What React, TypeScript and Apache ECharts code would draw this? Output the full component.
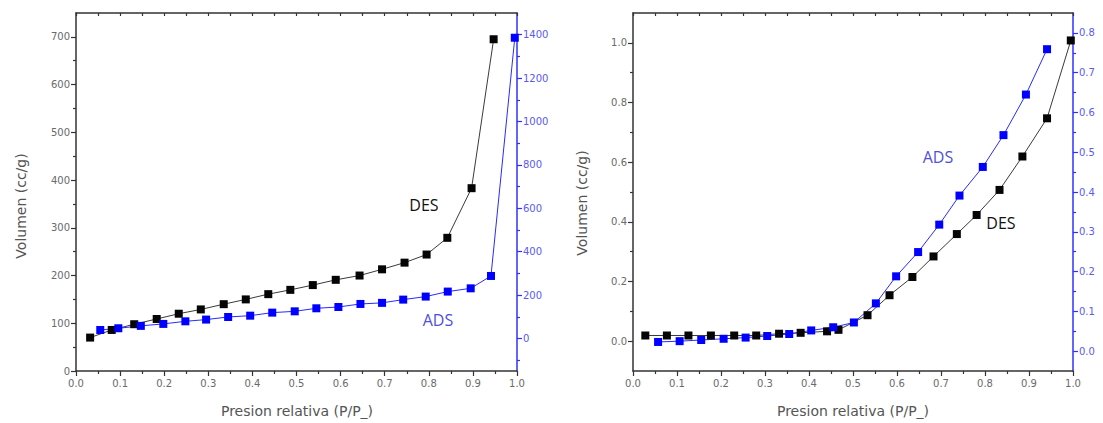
import React, { useEffect, useRef } from "react";
import * as echarts from "echarts";

// ---------- Data ----------
// Left panel: DES (black, left axis), ADS (blue, right axis)
const leftDesX = [0.032, 0.081, 0.132, 0.183, 0.233, 0.283, 0.335, 0.385, 0.436, 0.486, 0.537, 0.589, 0.643, 0.694, 0.745, 0.795, 0.842, 0.897, 0.947];
const leftDesY = [70, 86, 98, 109, 120, 129, 140, 150, 161, 170, 180, 191, 200, 213, 227, 244, 279, 383, 695];
const leftAdsX = [0.055, 0.096, 0.147, 0.198, 0.248, 0.295, 0.345, 0.395, 0.445, 0.496, 0.545, 0.595, 0.645, 0.694, 0.742, 0.793, 0.843, 0.895, 0.941, 0.995];
const leftAdsY = [39, 47, 58, 67, 79, 87, 99, 105, 119, 125, 139, 145, 159, 164, 179, 193, 216, 231, 288, 1386];

// Right panel: DES (black, left axis), ADS (blue, right axis)
const rightDesX = [0.028, 0.077, 0.126, 0.177, 0.23, 0.28, 0.332, 0.381, 0.441, 0.467, 0.533, 0.583, 0.635, 0.683, 0.736, 0.781, 0.833, 0.885, 0.941, 0.995];
const rightDesY = [0.019, 0.019, 0.019, 0.019, 0.019, 0.019, 0.025, 0.028, 0.033, 0.038, 0.087, 0.154, 0.215, 0.284, 0.359, 0.423, 0.507, 0.619, 0.747, 1.008];
const rightAdsX = [0.057, 0.106, 0.155, 0.206, 0.256, 0.305, 0.355, 0.405, 0.455, 0.502, 0.552, 0.598, 0.648, 0.696, 0.742, 0.795, 0.842, 0.893, 0.941];
const rightAdsY = [0.023, 0.025, 0.028, 0.031, 0.034, 0.038, 0.043, 0.052, 0.06, 0.072, 0.12, 0.188, 0.249, 0.318, 0.391, 0.463, 0.543, 0.645, 0.759];

// Tick values
const xTicks = [0, 0.1, 0.2, 0.3, 0.4, 0.5, 0.6, 0.7, 0.8, 0.9, 1.0];
const xMinorTicks = [0.05, 0.15, 0.25, 0.35, 0.45, 0.55, 0.65, 0.75, 0.85, 0.95];
const leftYTicks = [0, 100, 200, 300, 400, 500, 600, 700];
const leftYMinor = [50, 150, 250, 350, 450, 550, 650];
const leftY2Ticks = [0, 200, 400, 600, 800, 1000, 1200, 1400];
const leftY2Minor = [-100, 100, 300, 500, 700, 900, 1100, 1300];
const rightYTicks = [0, 0.2, 0.4, 0.6, 0.8, 1.0];
const rightYMinor = [0.1, 0.3, 0.5, 0.7, 0.9];
const rightY2Ticks = [0, 0.1, 0.2, 0.3, 0.4, 0.5, 0.6, 0.7, 0.8];
const rightY2Minor = [0.05, 0.15, 0.25, 0.35, 0.45, 0.55, 0.65, 0.75];

const AXIS_DARK = "#333333";
const AXIS_BLUE = "#3030ff";
const LABEL_GRAY = "#6a6a6a";
const LABEL_BLUE = "#5a5aee";
const TICK_FONT = "DejaVu Sans";

const zip = (xs: number[], ys: number[]) => xs.map((x, i) => [x, ys[i]]);

function xAxes(grid: number) {
  return [
    {
      type: "value",
      gridIndex: grid,
      position: "bottom",
      min: 0,
      max: 1,
      interval: 0.1,
      axisLine: { onZero: false, lineStyle: { color: AXIS_DARK, width: 1.5 } },
      axisTick: { show: true, length: 5, customValues: xTicks, lineStyle: { color: AXIS_DARK, width: 1.2 } },
      minorTick: { show: true, splitNumber: 2, length: 3, lineStyle: { color: AXIS_DARK, width: 1.2 } },
      splitLine: { show: false },
      axisLabel: {
        customValues: xTicks,
        formatter: (v: number) => v.toFixed(1),
        color: LABEL_GRAY,
        fontFamily: TICK_FONT,
        fontSize: 10,
        margin: 7,
      },
    },
    {
      type: "value",
      gridIndex: grid,
      position: "top",
      min: 0,
      max: 1,
      interval: 0.1,
      axisLine: { onZero: false, lineStyle: { color: AXIS_DARK, width: 1.5 } },
      axisTick: { show: true, inside: true, length: 3, customValues: [...xTicks, ...xMinorTicks], lineStyle: { color: AXIS_DARK, width: 1.2 } },
      splitLine: { show: false },
      axisLabel: { show: false },
    },
  ];
}

function yAxisPair(
  grid: number,
  position: "left" | "right",
  min: number,
  max: number,
  ticks: number[],
  minor: number[],
  decimals: number,
  lineColor: string,
  labelColor: string
) {
  return [
    {
      type: "value",
      gridIndex: grid,
      position,
      min,
      max,
      axisLine: { show: true, onZero: false, lineStyle: { color: lineColor, width: 1.5 } },
      axisTick: { show: true, length: 5, customValues: ticks, lineStyle: { color: lineColor, width: 1.2 } },
      splitLine: { show: false },
      axisLabel: {
        customValues: ticks,
        formatter: (v: number) => v.toFixed(decimals),
        color: labelColor,
        fontFamily: TICK_FONT,
        fontSize: 10,
        margin: 6,
      },
    },
    {
      type: "value",
      gridIndex: grid,
      position,
      min,
      max,
      axisLine: { show: false, onZero: false },
      axisTick: { show: true, length: 3, customValues: minor, lineStyle: { color: lineColor, width: 1.2 } },
      splitLine: { show: false },
      axisLabel: { show: false },
    },
  ];
}

function lineSeries(data: number[][], xi: number, yi: number, color: string, lineColor: string) {
  return {
    type: "line",
    xAxisIndex: xi,
    yAxisIndex: yi,
    data,
    symbol: "rect",
    symbolSize: 8,
    showAllSymbol: true,
    itemStyle: { color },
    lineStyle: { color: lineColor, width: 1 },
  };
}

function textEl(text: string, x: number, y: number, color: string, font: string, size: number, rotation = 0) {
  return {
    type: "text",
    x,
    y,
    rotation,
    style: {
      text,
      fill: color,
      fontFamily: font,
      fontSize: size,
      textAlign: "center",
      textVerticalAlign: "middle",
    },
  };
}

export default function App() {
  const ref = useRef<HTMLDivElement>(null);
  useEffect(() => {
    if (!ref.current) return;
    const chart = echarts.init(ref.current, null, { renderer: "svg" });
    const option: any = {
      animation: false,
      backgroundColor: "#ffffff",
      grid: [
        { left: 76, right: 586, top: 13, bottom: 52, containLabel: false, outerBoundsMode: "none" },
        { left: 633, right: 30, top: 13, bottom: 52, containLabel: false, outerBoundsMode: "none" },
      ],
      xAxis: [...xAxes(0), ...xAxes(1)],
      yAxis: [
        ...yAxisPair(0, "left", 0, 750, leftYTicks, leftYMinor, 0, AXIS_DARK, LABEL_GRAY),
        ...yAxisPair(0, "right", -150, 1500, leftY2Ticks, leftY2Minor, 0, AXIS_BLUE, LABEL_BLUE),
        ...yAxisPair(1, "left", -0.1, 1.1, rightYTicks, rightYMinor, 1, AXIS_DARK, LABEL_GRAY),
        ...yAxisPair(1, "right", -0.05, 0.85, rightY2Ticks, rightY2Minor, 1, AXIS_BLUE, LABEL_BLUE),
      ],
      series: [
        lineSeries(zip(leftDesX, leftDesY), 0, 0, "#050505", "#3a3a3a"),
        lineSeries(zip(leftAdsX, leftAdsY), 0, 2, "#0000ff", "#2a2aff"),
        lineSeries(zip(rightDesX, rightDesY), 2, 4, "#050505", "#3a3a3a"),
        lineSeries(zip(rightAdsX, rightAdsY), 2, 6, "#0000ff", "#2a2aff"),
      ],
      graphic: [
        textEl("DES", 424, 205, "#111111", "Open Sans", 16),
        textEl("ADS", 438, 320, "#4f4fdc", "Open Sans", 16),
        textEl("ADS", 938, 157, "#4f4fdc", "Open Sans", 16),
        textEl("DES", 1001, 223, "#111111", "Open Sans", 16),
        textEl("Volumen (cc/g)", 21, 206, "#555555", "DejaVu Sans", 14, Math.PI / 2),
        textEl("Volumen (cc/g)", 582, 203, "#555555", "DejaVu Sans", 14, Math.PI / 2),
        textEl("Presion relativa (P/P_)", 297, 411, "#555555", "DejaVu Sans", 14),
        textEl("Presion relativa (P/P_)", 853, 411, "#555555", "DejaVu Sans", 14),
      ],
    };
    chart.setOption(option);
    return () => chart.dispose();
  }, []);
  return (
    <div
      ref={ref}
      style={{ position: "absolute", left: 0, top: 0, width: 1103, height: 423, background: "#fff" }}
    />
  );
}
